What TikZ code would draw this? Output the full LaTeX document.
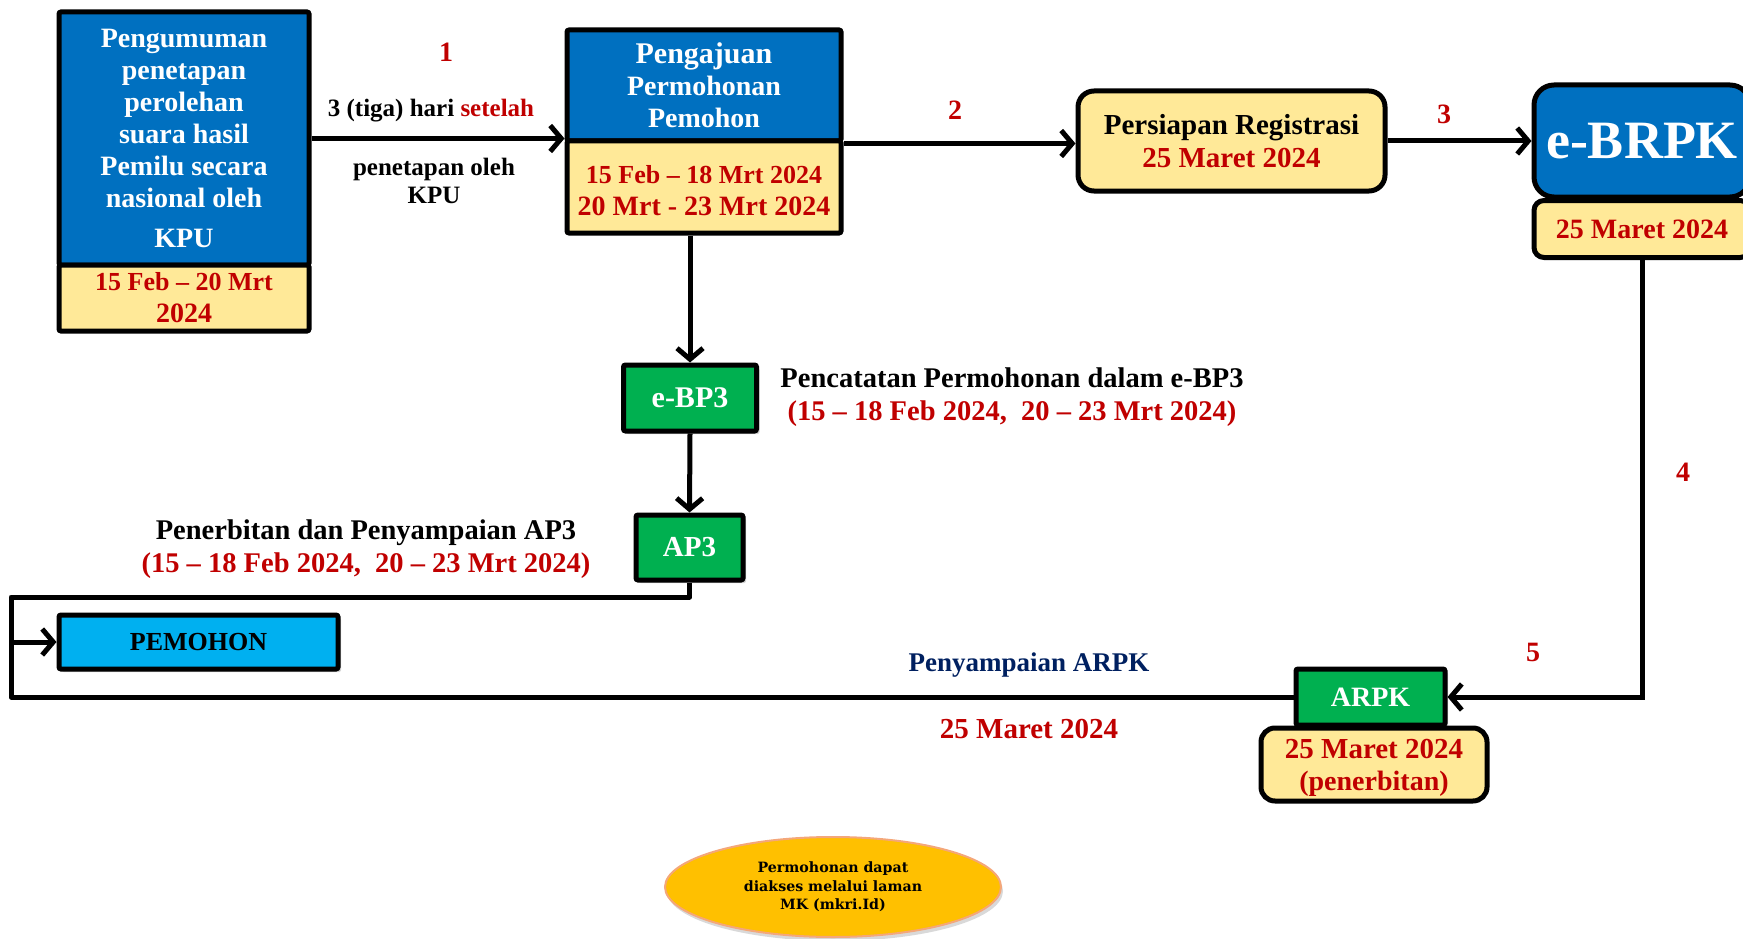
\documentclass[tikz,border=0pt]{standalone}
\usepackage{fontspec}
\setmainfont{Liberation Serif}
\newfontfamily\slabfont{DejaVu Serif}
\usetikzlibrary{arrows.meta,shadows,calc,shapes.geometric}

\definecolor{boxblue}{HTML}{0070C0}
\definecolor{boxyellow}{HTML}{FFE998}
\definecolor{datered}{HTML}{C00000}
\definecolor{boxgreen}{HTML}{00B050}
\definecolor{boxcyan}{HTML}{00B0F0}
\definecolor{navytext}{HTML}{002060}
\definecolor{ovalfill}{HTML}{FFC000}
\definecolor{ovalline}{HTML}{F4A77A}

\newcommand{\setfs}[2]{\fontsize{#1}{#2}\selectfont}

\tikzset{
  boxbase/.style={draw=black, line width=5pt, align=center, inner sep=0pt,
    font=\bfseries\setfs{28}{32}},
  bluebox/.style={boxbase, fill=boxblue, text=white},
  datebox/.style={boxbase, fill=boxyellow, text=datered},
  greenbox/.style={boxbase, fill=boxgreen, text=white,
    drop shadow={opacity=0.35, shadow xshift=3pt, shadow yshift=-3pt}},
  flowline/.style={line width=5pt, draw=black},
  flowarrow/.style={flowline, -{Straight Barb[length=11pt,width=26pt]}},
  steplabel/.style={text=datered, font=\bfseries\setfs{28}{32}},
  caption/.style={align=center, font=\bfseries\setfs{28.5}{33}},
}

\begin{document}
\begin{tikzpicture}[x=1pt,y=-1pt]
\useasboundingbox (0,0) rectangle (1743,939);
\clip (0,0) rectangle (1743,939);

% announcement box
\node[bluebox, rounded corners=2pt, minimum width=250pt, minimum height=253pt] (pengumuman) at (184,138.5)
  {Pengumuman\\penetapan\\perolehan\\suara hasil\\Pemilu secara\\nasional oleh\\[8pt]KPU};
\node[datebox, rounded corners=2pt, minimum width=250pt, minimum height=66pt] (pengumumandate) at (184,298)
  {\setfs{26}{30}15 Feb – 20 Mrt\\2024};

% application box
\node[bluebox, rounded corners=2pt, minimum width=274pt, minimum height=111pt] (pengajuan) at (704,85.5)
  {\setfs{30}{34}Pengajuan\\Permohonan\\Pemohon};
\node[datebox, rounded corners=2pt, minimum width=274pt, minimum height=92pt] (pengajuandate) at (704,187)
  {\setfs{26}{29}\rule{0pt}{25pt}15 Feb – 18 Mrt 2024\\20 Mrt - 23 Mrt 2024};

% registration preparation
\node[boxbase, fill=boxyellow, rounded corners=16pt, minimum width=307pt, minimum height=100pt,
  font=\bfseries\setfs{29}{33}] (persiapan) at (1231.5,141)
  {Persiapan Registrasi\\{\color{datered}25 Maret 2024}};

% e-BRPK
\node[bluebox, rounded corners=20pt, minimum width=216pt, minimum height=112pt, font=\bfseries\setfs{54}{60}] (ebrpk) at (1642,141)
  {e-BRPK};
\node[datebox, rounded corners=10pt, minimum width=216pt, minimum height=57pt, font=\bfseries\setfs{28}{32}] (ebrpkdate) at (1642,229)
  {25 Maret 2024};

% e-BP3 and AP3
\node[greenbox, rounded corners=2pt, minimum width=133pt, minimum height=66pt, font=\bfseries\setfs{30}{32}] (ebp3) at (690,398) {e-BP3};
\node[greenbox, rounded corners=2pt, minimum width=107pt, minimum height=65pt, font=\bfseries\setfs{29}{32}] (ap3) at (689.5,547.5) {AP3};

% applicant
\node[boxbase, fill=boxcyan, rounded corners=2pt, minimum width=279pt, minimum height=54pt,
  drop shadow={opacity=0.35, shadow xshift=3pt, shadow yshift=-3pt}] (pemohon) at (198.5,642) {\setfs{26}{30}PEMOHON};

% ARPK
\node[greenbox, rounded corners=2pt, minimum width=149pt, minimum height=56pt] (arpk) at (1370.5,697) {ARPK};
\node[datebox, rounded corners=14pt, minimum width=226pt, minimum height=73pt] (arpkdate) at (1374,764.5)
  {\setfs{29}{31}\rule{0pt}{26pt}25 Maret 2024\\(penerbitan)};

% website note
\node[ellipse, fill=ovalfill, draw=ovalline, line width=2pt, minimum width=336pt, minimum height=100pt,
  inner sep=0pt, align=center, font=\slabfont\bfseries\setfs{14.2}{18.5},
  drop shadow={opacity=0.3, shadow xshift=2pt, shadow yshift=-4pt}] (oval) at (833,887)
  {Permohonan dapat\\diakses melalui laman\\MK (mkri.Id)};

% connectors
\draw[flowarrow] (pengumuman.east) -- (pengumuman.east -| pengajuandate.west);
\draw[flowarrow] (pengajuan.south east) -- (pengajuan.south east -| persiapan.west);
\draw[flowarrow] (persiapan.east) -- (ebrpk.west);
\draw[flowarrow] (ebp3.north |- pengajuandate.south) -- (ebp3.north);
\draw[flowarrow] (ebp3.south) -- (ap3.north);
\draw[flowarrow] (ebrpkdate.south) |- (arpk.east);

\coordinate (looptop) at (11,597);
\coordinate (loopbottom) at (11,697);
\draw[flowline, line join=round] (ap3.south) |- (looptop) -- (loopbottom) -- (arpk.west);
\draw[flowarrow] (looptop |- pemohon.west) -- (pemohon.west);

% step numbers
\node[steplabel] (n1) at (446,52) {1};
\node[steplabel] (n2) at (955,110) {2};
\node[steplabel] (n3) at (1444,114) {3};
\node[steplabel] (n4) at (1683,472) {4};
\node[steplabel] (n5) at (1533,652) {5};

% captions
\node[caption, font=\bfseries\setfs{25}{28}] (tiga) at (431,111) {3 (tiga) hari {\color{datered}setelah}};
\node[caption, font=\bfseries\setfs{25}{28}] (penetapan) at (434,181) {penetapan oleh\\KPU};
\node[caption] (pencatatan) at (1012,397) {Pencatatan Permohonan dalam e-BP3\\{\color{datered}(15 – 18 Feb 2024,\ \ 20 – 23 Mrt 2024)}};
\node[caption] (penerbitan) at (366,549) {Penerbitan dan Penyampaian AP3\\{\color{datered}(15 – 18 Feb 2024,\ \ 20 – 23 Mrt 2024)}};
\node[caption, font=\bfseries\setfs{27}{33}, text=navytext] (penyampaian) at (1029,665) {Penyampaian ARPK};
\node[caption, font=\bfseries\setfs{29}{33}, text=datered] (arpktanggal) at (1029,729) {25 Maret 2024};
\end{tikzpicture}
\end{document}
